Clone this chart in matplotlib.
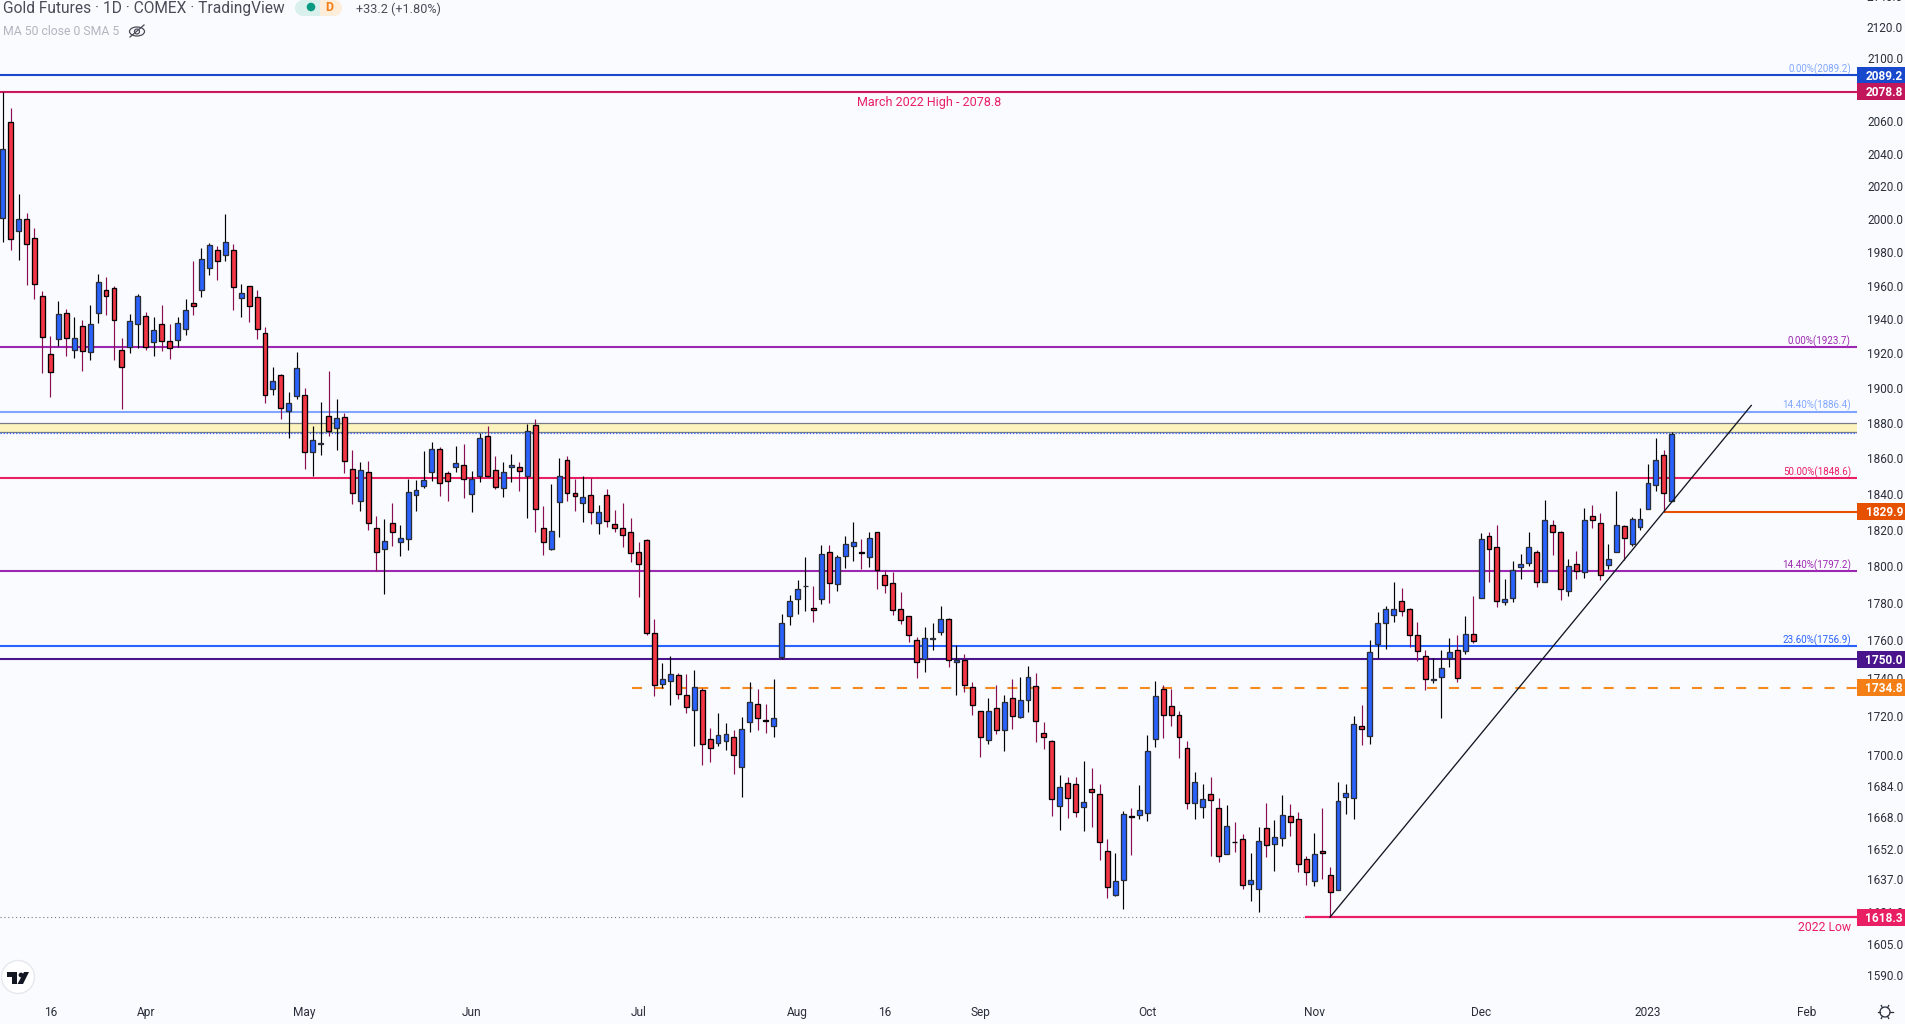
import numpy as np
import matplotlib
matplotlib.use('Agg')
import matplotlib.pyplot as plt
from matplotlib.patches import Circle, Ellipse, Polygon, Rectangle
from matplotlib.lines import Line2D
from matplotlib.transforms import IdentityTransform

plt.rcParams['font.family'] = ['Roboto', 'DejaVu Sans']

opens = [2000.4, 2059.9, 1992.4, 1999.8, 1988.4, 1953.6, 1919.7, 1928.5, 1943.6, 1922.2,
         1935.8, 1920.9, 1943.6, 1957.2, 1958.4, 1922.1, 1923.8, 1937.2, 1941.9, 1926.7,
         1937.2, 1927.3, 1927.9, 1934.3, 1949.5, 1957.2, 1970.4, 1981.2, 1978.2, 1981.2,
         1952.4, 1959.6, 1953.0, 1932.0, 1899.3, 1907.5, 1886.7, 1895.3, 1895.8, 1863.5,
         1868.0, 1883.9, 1877.1, 1883.3, 1853.9, 1836.1, 1852.2, 1821.0, 1809.4, 1823.7,
         1813.3, 1815.0, 1839.2, 1844.2, 1852.2, 1865.2, 1851.6, 1855.0, 1856.2, 1839.8,
         1849.9, 1872.5, 1853.3, 1843.1, 1855.0, 1855.0, 1849.9, 1878.8, 1821.0, 1809.4,
         1835.2, 1859.0, 1840.3, 1834.7, 1839.2, 1823.7, 1839.2, 1823.2, 1821.0, 1818.8,
         1807.8, 1814.4, 1763.9, 1736.8, 1738.3, 1741.5, 1730.9, 1723.1, 1733.6, 1708.1,
         1706.0, 1707.1, 1709.1, 1693.7, 1716.9, 1726.2, 1717.9, 1714.8, 1751.1, 1772.9,
         1782.0, 1789.1, 1777.2, 1782.0, 1807.8, 1790.2, 1805.6, 1811.1, 1807.7, 1805.0,
         1818.8, 1795.2, 1790.8, 1776.7, 1772.9, 1760.2, 1750.1, 1761.0, 1764.4, 1771.3,
         1748.5, 1749.5, 1735.2, 1722.6, 1707.6, 1724.1, 1712.8, 1729.3, 1719.5, 1728.2,
         1735.7, 1711.2, 1707.1, 1673.6, 1685.4, 1684.9, 1673.1, 1682.3, 1679.9, 1651.1,
         1629.0, 1636.6, 1668.8, 1669.1, 1670.1, 1708.1, 1734.0, 1725.1, 1720.5, 1703.5,
         1675.1, 1673.1, 1679.9, 1672.6, 1649.6, 1655.8, 1657.1, 1634.6, 1632.0, 1662.6,
         1654.6, 1657.6, 1668.6, 1667.1, 1647.1, 1636.0, 1651.1, 1639.1, 1631.5, 1678.2,
         1677.7, 1714.8, 1709.7, 1758.0, 1769.2, 1773.5, 1781.4, 1776.7, 1762.8, 1751.6,
         1739.2, 1740.5, 1750.5, 1754.8, 1754.3, 1763.4, 1782.5, 1816.6, 1810.6, 1780.4,
         1783.0, 1799.6, 1801.8, 1807.8, 1791.7, 1822.6, 1818.8, 1786.4, 1801.2, 1796.8,
         1827.6, 1823.7, 1800.7, 1807.8, 1822.0, 1812.3, 1821.5, 1831.4, 1844.8, 1861.6,
         1835.8]
highs = [2078.8, 2068.4, 2015.1, 2003.6, 1994.6, 1956.6, 1930.4, 1950.8, 1946.2, 1941.3,
         1939.7, 1948.5, 1967.0, 1965.0, 1959.6, 1929.1, 1943.0, 1954.8, 1944.2, 1941.3,
         1948.3, 1937.2, 1941.3, 1951.8, 1974.6, 1982.4, 1985.4, 1983.6, 2002.8, 1984.8,
         1960.8, 1959.6, 1957.4, 1935.5, 1912.2, 1908.1, 1897.6, 1920.9, 1899.9, 1878.2,
         1891.8, 1909.9, 1893.5, 1885.6, 1864.8, 1858.0, 1858.6, 1827.7, 1826.0, 1834.7,
         1822.8, 1848.2, 1847.8, 1864.2, 1869.3, 1866.3, 1852.7, 1867.1, 1868.2, 1852.9,
         1874.3, 1878.2, 1861.4, 1858.0, 1862.5, 1857.9, 1879.3, 1882.2, 1833.2, 1845.7,
         1860.1, 1861.4, 1848.4, 1850.1, 1849.0, 1833.8, 1842.7, 1830.8, 1834.7, 1826.6,
         1813.4, 1815.0, 1771.3, 1748.1, 1751.8, 1742.8, 1742.2, 1744.4, 1734.6, 1713.9,
         1721.7, 1716.5, 1712.9, 1719.5, 1737.9, 1734.0, 1726.3, 1739.4, 1774.0, 1784.2,
         1792.6, 1805.2, 1789.3, 1811.8, 1811.8, 1806.3, 1816.7, 1824.4, 1815.0, 1818.9,
         1818.8, 1798.0, 1796.8, 1786.0, 1772.9, 1761.9, 1767.2, 1769.4, 1778.4, 1771.9,
         1757.7, 1752.9, 1737.9, 1722.6, 1729.5, 1736.4, 1731.0, 1739.6, 1740.6, 1746.5,
         1742.8, 1717.0, 1707.8, 1689.7, 1688.7, 1688.7, 1697.0, 1693.3, 1685.2, 1657.3,
         1650.2, 1671.3, 1672.6, 1684.7, 1710.3, 1738.2, 1736.2, 1734.2, 1722.7, 1707.2,
         1691.2, 1685.2, 1688.7, 1677.8, 1674.3, 1665.8, 1659.6, 1650.2, 1663.3, 1675.3,
         1666.8, 1679.3, 1674.8, 1670.8, 1648.7, 1660.3, 1672.8, 1643.2, 1686.2, 1685.2,
         1720.1, 1725.8, 1760.3, 1775.2, 1778.4, 1791.2, 1788.0, 1777.3, 1769.7, 1755.0,
         1750.5, 1755.0, 1761.2, 1763.0, 1772.9, 1783.7, 1818.2, 1818.8, 1822.6, 1792.8,
         1802.9, 1806.7, 1818.8, 1809.0, 1836.5, 1825.5, 1819.3, 1803.9, 1808.5, 1832.0,
         1833.8, 1829.4, 1812.3, 1841.4, 1822.6, 1827.0, 1832.0, 1856.9, 1871.4, 1864.4,
         1874.8]
lows = [1985.8, 1981.0, 1975.0, 1960.6, 1952.2, 1908.8, 1895.0, 1924.2, 1918.3, 1917.2,
        1910.1, 1916.0, 1937.8, 1942.7, 1916.0, 1888.2, 1920.3, 1923.3, 1921.8, 1918.3,
        1921.2, 1916.6, 1923.6, 1930.6, 1942.8, 1953.0, 1966.4, 1963.0, 1974.4, 1945.7,
        1941.1, 1938.2, 1928.3, 1891.6, 1896.2, 1882.2, 1871.4, 1893.5, 1853.9, 1849.7,
        1861.6, 1872.3, 1864.8, 1851.6, 1834.3, 1830.5, 1820.0, 1797.2, 1784.8, 1811.2,
        1805.4, 1808.7, 1830.5, 1843.3, 1847.3, 1838.8, 1836.0, 1852.0, 1837.6, 1829.9,
        1846.7, 1849.3, 1842.9, 1838.2, 1846.7, 1841.6, 1826.6, 1818.9, 1806.3, 1808.7,
        1816.3, 1836.0, 1830.5, 1824.4, 1823.3, 1817.8, 1821.7, 1818.9, 1810.7, 1802.5,
        1783.4, 1763.0, 1730.5, 1734.6, 1725.8, 1728.9, 1721.7, 1704.7, 1694.9, 1696.4,
        1704.7, 1702.6, 1690.2, 1678.5, 1711.9, 1712.9, 1711.4, 1709.3, 1750.1, 1768.3,
        1774.2, 1775.7, 1769.9, 1779.5, 1780.0, 1786.5, 1799.2, 1803.0, 1798.6, 1799.7,
        1787.6, 1785.4, 1773.6, 1768.8, 1759.3, 1740.1, 1743.3, 1755.0, 1763.0, 1745.9,
        1731.0, 1732.6, 1720.7, 1699.0, 1705.7, 1710.9, 1701.7, 1713.4, 1719.3, 1722.2,
        1706.7, 1703.1, 1668.8, 1661.8, 1667.8, 1668.3, 1661.3, 1663.3, 1646.8, 1627.7,
        1628.8, 1622.2, 1649.3, 1667.3, 1666.3, 1704.1, 1708.8, 1715.0, 1698.5, 1672.3,
        1667.3, 1667.8, 1648.4, 1645.7, 1649.6, 1650.7, 1632.2, 1626.2, 1620.7, 1648.2,
        1641.2, 1653.7, 1658.8, 1640.7, 1634.2, 1633.7, 1637.2, 1618.3, 1631.5, 1669.8,
        1667.3, 1705.2, 1705.7, 1750.7, 1755.5, 1769.9, 1773.1, 1756.6, 1749.2, 1733.6,
        1737.4, 1719.1, 1745.9, 1737.9, 1752.9, 1758.6, 1782.5, 1791.2, 1777.9, 1778.9,
        1780.5, 1792.8, 1800.3, 1788.5, 1791.7, 1806.3, 1781.6, 1783.8, 1793.0, 1793.7,
        1821.1, 1792.6, 1798.6, 1807.8, 1803.6, 1811.3, 1820.0, 1831.4, 1841.6, 1829.9,
        1835.8]
closes = [2042.8, 1987.8, 2000.0, 1984.8, 1960.8, 1929.7, 1909.2, 1943.0, 1929.1, 1929.1,
          1921.6, 1937.2, 1962.0, 1953.6, 1939.6, 1912.2, 1939.0, 1953.6, 1923.8, 1933.7,
          1927.3, 1923.3, 1937.8, 1945.4, 1947.7, 1975.8, 1984.2, 1974.6, 1986.0, 1959.0,
          1955.4, 1947.7, 1934.3, 1895.8, 1904.0, 1888.4, 1891.2, 1911.6, 1863.5, 1870.3,
          1868.4, 1875.4, 1882.7, 1858.4, 1840.6, 1853.3, 1824.0, 1807.8, 1813.8, 1818.8,
          1815.5, 1840.9, 1842.0, 1847.6, 1865.2, 1846.0, 1847.1, 1857.3, 1848.2, 1848.2,
          1871.4, 1849.9, 1843.7, 1852.2, 1856.1, 1852.7, 1875.4, 1831.4, 1813.3, 1819.3,
          1849.9, 1840.3, 1838.6, 1838.0, 1829.7, 1829.7, 1824.8, 1821.0, 1817.1, 1807.3,
          1801.2, 1763.9, 1736.2, 1739.4, 1742.1, 1731.4, 1724.6, 1735.2, 1705.5, 1703.5,
          1710.2, 1710.7, 1699.8, 1713.3, 1727.2, 1718.9, 1717.5, 1718.9, 1769.2, 1781.4,
          1787.5, 1789.5, 1776.1, 1806.7, 1790.8, 1805.0, 1812.2, 1813.3, 1807.3, 1815.5,
          1797.9, 1789.7, 1776.1, 1770.8, 1762.8, 1748.5, 1761.2, 1761.4, 1771.3, 1749.5,
          1749.5, 1736.2, 1725.7, 1709.1, 1722.6, 1712.8, 1727.2, 1720.0, 1728.2, 1740.5,
          1717.4, 1709.1, 1677.2, 1683.4, 1677.7, 1670.6, 1675.6, 1680.8, 1655.6, 1633.0,
          1636.0, 1669.6, 1668.4, 1671.6, 1701.9, 1730.3, 1720.5, 1720.5, 1709.1, 1675.1,
          1685.9, 1677.2, 1676.6, 1648.6, 1663.6, 1655.4, 1634.1, 1636.6, 1656.1, 1654.1,
          1658.1, 1669.1, 1665.6, 1644.6, 1640.6, 1649.6, 1650.1, 1630.6, 1676.1, 1680.2,
          1715.9, 1713.3, 1753.7, 1769.2, 1776.7, 1776.7, 1775.6, 1762.8, 1754.3, 1739.4,
          1739.6, 1745.3, 1753.7, 1739.9, 1763.4, 1759.6, 1815.0, 1809.4, 1780.9, 1782.0,
          1797.9, 1801.2, 1810.6, 1791.7, 1825.4, 1818.8, 1787.5, 1800.1, 1797.4, 1825.4,
          1825.4, 1795.2, 1803.9, 1822.6, 1815.5, 1825.9, 1825.9, 1846.0, 1859.0, 1840.3,
          1873.7]

level_prices = [2089.2, 2078.8, 1923.7, 1886.4, 1848.6, 1797.2, 1756.9, 1750.0]
level_colors = ['#1848cc', '#c2185b', '#9c27b0', '#82a6ff', '#e91e63', '#9c27b0', '#2962ff', '#4a148c']

zone_low, zone_high = 1874.7, 1880.2
last_price = 1874.0
dash_level = 1734.8
low_level = 1618.3
stop_level = 1829.9
trend_x = [167, 220]
trend_y = [1618.3, 1890.0]

price_ticks = [2140, 2120, 2100, 2060, 2040, 2020, 2000, 1980, 1960, 1940, 1920, 1900, 1880, 1860,
               1840, 1820, 1800, 1780, 1760, 1740, 1720, 1700, 1684, 1668, 1652, 1637, 1621, 1605, 1590]
time_pos = [6, 18, 38, 59, 80, 100, 111, 123, 144, 165, 186, 207, 227]
time_labels = ['16', 'Apr', 'May', 'Jun', 'Jul', 'Aug', '16', 'Sep', 'Oct', 'Nov', 'Dec', '2023', 'Feb']

tag_prices = [2089.2, 2078.8, 1829.9, 1750.0, 1734.8, 1618.3]
tag_colors = ['#1848cc', '#c2185b', '#e65100', '#4a148c', '#f57f17', '#e91e63']

fib_labels = ['0.00%(2089.2)', '0.00%(1923.7)', '14.40%(1886.4)', '50.00%(1848.6)', '14.40%(1797.2)', '23.60%(1756.9)']
fib_prices = [2089.2, 1923.7, 1886.4, 1848.6, 1797.2, 1756.9]
fib_colors = ['#82a6ff', '#9c27b0', '#82a6ff', '#e91e63', '#9c27b0', '#2962ff']

bg = '#f9fbff'
W, H = 1905, 1024
pane_r = 1857
pane_b = 994

fig = plt.figure(figsize=(W / 100, H / 100), dpi=100, facecolor=bg)
ax = fig.add_axes([0, (H - pane_b) / H, pane_r / W, pane_b / H], facecolor=bg)
ax.set_yscale('log')
ax.set_xlim(-0.34, 233.3)
ax.set_ylim(1581.0, 2137.3)
for s in ax.spines.values():
    s.set_visible(False)
ax.minorticks_off()
ax.yaxis.set_major_locator(plt.NullLocator())
ax.yaxis.set_minor_locator(plt.NullLocator())
ax.set_xticks(time_pos)
ax.set_xticklabels(time_labels, fontsize=8.6, color='#2a2e39')
ax.tick_params(axis='x', length=0, pad=8.5)

# levels behind the candles
ax.axhspan(zone_low, zone_high, color='#fcf4bc', lw=0, zorder=1)
ax.axhline(zone_high, color='#787b86', lw=0.9, zorder=1.1)
ax.axhline(zone_low, color='#787b86', lw=0.9, zorder=1.1)
ax.axhline(last_price, color='#2962ff', lw=0.9, ls=(0, (1, 1.5)), zorder=1.2)
for p, c in zip(level_prices, level_colors):
    ax.axhline(p, color=c, lw=1.5, zorder=2)
ax.axhline(2078.8, color='#e91e63', lw=0.8, ls=(0, (1, 1.5)), zorder=2.1)
ax.hlines(dash_level, 79.2, 233.3, color='#f7891f', lw=1.5, ls=(0, (4.8, 5.8)), zorder=2)
ax.hlines(low_level, -0.34, 164, color='#787b86', lw=0.8, ls=(0, (1, 2.5)), zorder=2)
ax.hlines(low_level, 163.8, 233.3, color='#e91e63', lw=1.6, zorder=2)
ax.hlines(stop_level, 209, 233.3, color='#e65100', lw=1.5, zorder=2)

# candles
xs = np.arange(len(opens))
o, h, l, c = map(np.array, (opens, highs, lows, closes))
up = c >= o
ax.vlines(xs[up], l[up], h[up], color='#000000', lw=0.85, zorder=3)
ax.vlines(xs[~up], l[~up], h[~up], color='#880e4f', lw=0.85, zorder=3)
ax.bar(xs[up], c[up] - o[up], bottom=o[up], width=0.62, color='#2962ff', edgecolor='#2a2e39', lw=0.95, zorder=4)
ax.bar(xs[~up], o[~up] - c[~up], bottom=c[~up], width=0.62, color='#f23645', edgecolor='#000000', lw=0.95, zorder=4)

ax.plot(trend_x, trend_y, color='#131722', lw=0.95, zorder=5)

# labels on the levels
tr = ax.get_yaxis_transform()
for s, p, col in zip(fib_labels, fib_prices, fib_colors):
    ax.annotate(s, xy=(1, p), xycoords=tr, xytext=(-6, 0.5), textcoords='offset pixels',
                ha='right', va='bottom', fontsize=7.0, color=col, zorder=6)
ax.annotate('March 2022 High - 2078.8', xy=(116.5, 2078.8), xytext=(0, -11), textcoords='offset pixels',
            ha='center', va='center', fontsize=9.0, color='#e91e63', zorder=6)
ax.annotate('2022 Low', xy=(1, low_level), xycoords=tr, xytext=(-6, -10), textcoords='offset pixels',
            ha='right', va='center', fontsize=8.8, color='#e91e63', zorder=6)

# price scale
ax2 = fig.add_axes([pane_r / W, (H - pane_b) / H, (W - pane_r) / W, pane_b / H], facecolor=bg, sharey=ax)
ax2.set_xlim(0, 48)
ax2.axis('off')
for p in price_ticks:
    ax2.annotate(f'{p:.1f}', xy=(46, p), xytext=(0, -1.5), textcoords='offset pixels', ha='right', va='center',
                 fontsize=8.5, color='#2a2e39', annotation_clip=False, zorder=1)
for p, col in zip(tag_prices, tag_colors):
    ax2.axhspan(p * np.exp(-8.5 / 3297), p * np.exp(8.5 / 3297), color=col, lw=0, zorder=2)
    ax2.annotate(f'{p:.1f}', xy=(46, p), xytext=(0, -1), textcoords='offset pixels', ha='right', va='center',
                 fontsize=8.6, color='white', fontweight='bold', zorder=3)

# header
fig.text(3 / W, 1 - 8 / H, 'Gold Futures · 1D · COMEX · TradingView', fontsize=11.2, color='#4a4d57', va='center')
fig.text(356 / W, 1 - 9 / H, '+33.2 (+1.80%)', fontsize=9.05, color='#4a4d57', va='center')
fig.text(3 / W, 1 - 31.5 / H, 'MA 50 close 0 SMA 5', fontsize=8.8, color='#b2b5be', va='center')


def px(x, y):
    return (x, H - y)


# interval pill, visibility icon, logo and settings icon, all placed in pixels
art = [
    Rectangle(px(303, 16), 17, 16, fc='#d9f0ec', ec='none'),
    Circle(px(303, 8), 8, fc='#d9f0ec', ec='none'),
    Rectangle(px(320, 16), 14, 16, fc='#fdeedb', ec='none'),
    Circle(px(334, 8), 8, fc='#fdeedb', ec='none'),
    Circle(px(311, 7), 4.3, fc='#089981', ec='none'),
    Ellipse(px(137, 31.5), 15, 9, fc='none', ec='#4a4d57', lw=0.9),
    Circle(px(137, 31.5), 2.5, fc='none', ec='#4a4d57', lw=0.9),
    Line2D([130, 144], [H - 37, H - 25], color='#4a4d57', lw=0.9),
    Circle(px(18, 977), 16.5, fc='white', ec='#e6e8ee', lw=1),
    Polygon([px(7, 972), px(17, 972), px(17, 984), px(12, 984), px(12, 977), px(7, 977)], fc='#131722', ec='none'),
    Circle(px(21, 975), 2.4, fc='#131722', ec='none'),
    Polygon([px(24, 972), px(29, 972), px(23, 984), px(17.5, 984)], fc='#131722', ec='none'),
    Circle(px(1885, 1012), 5, fc='none', ec='#2a2e39', lw=0.9),
]
for a in np.arange(0, 2 * np.pi, np.pi / 3):
    art.append(Line2D([1885 + 5 * np.cos(a), 1885 + 7.5 * np.cos(a)],
                      [H - 1012 + 5 * np.sin(a), H - 1012 + 7.5 * np.sin(a)], color='#2a2e39', lw=0.9))
for item in art:
    fig.add_artist(item)
    item.set_transform(IdentityTransform())
fig.text(329 / W, 1 - 7.5 / H, 'D', fontsize=9, color='#f57f17', fontweight='bold', ha='center', va='center')

fig.savefig('out.png', dpi=100, facecolor=bg)
